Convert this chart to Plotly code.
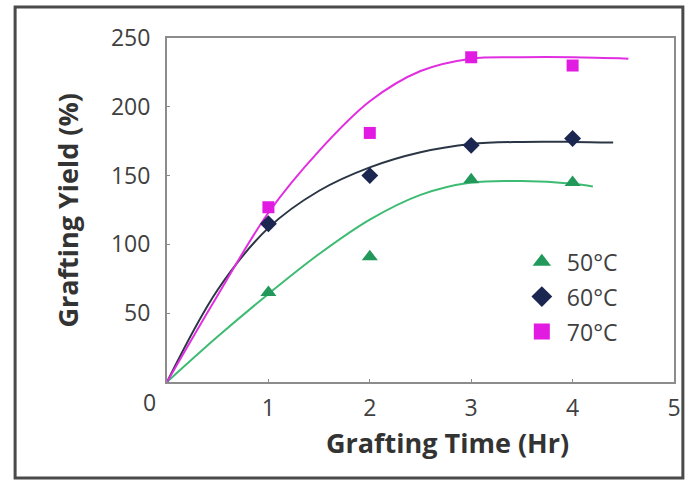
import plotly.graph_objects as go

# Measured data points (Grafting Time, Grafting Yield %)
time_pts = [1, 2, 3, 4]
yield_50 = [65, 91, 147, 145]
yield_60 = [115, 150, 172, 177]
yield_70 = [127, 181, 236, 230]

# Fitted trend curves
curve50_x = [0, 0.5, 1, 1.5, 2, 2.5, 3, 3.5, 4, 4.2]
curve50_y = [0, 33, 64, 93, 118, 136, 145, 146, 144, 142]
curve60_x = [0, 0.5, 1, 1.5, 2, 2.5, 3, 3.5, 4, 4.4]
curve60_y = [0, 67, 112, 139, 156, 167, 173, 174.5, 174.5, 174]
curve70_x = [0, 0.5, 1, 1.5, 2, 2.5, 3, 3.5, 4, 4.55]
curve70_y = [0, 63, 123, 168, 204, 226, 235, 236, 236, 235]

series_names = ["50°C", "60°C", "70°C"]
x_ticks = [1, 2, 3, 4, 5]
y_ticks = [50, 100, 150, 200, 250]

c50_line, c50_mark = "#3dbb73", "#22995a"
c60_line, c60_mark = "#2b3644", "#1b2750"
c70_line, c70_mark = "#e02ee0", "#e21be2"

FONT = "Open Sans"

fig = go.Figure()

curves = [(curve50_x, curve50_y, c50_line), (curve60_x, curve60_y, c60_line), (curve70_x, curve70_y, c70_line)]
for cx, cy, col in curves:
    fig.add_trace(go.Scatter(x=cx, y=cy, mode="lines", line=dict(color=col, width=2, shape="spline", smoothing=1.0),
                             showlegend=False, hoverinfo="skip"))

markers = [(yield_50, "triangle-up", c50_mark, 14), (yield_60, "diamond", c60_mark, 13), (yield_70, "square", c70_mark, 12)]
for (vals, sym, col, sz) in markers:
    fig.add_trace(go.Scatter(x=time_pts, y=vals, mode="markers", marker=dict(symbol=sym, color=col, size=sz),
                             showlegend=False))

# legend-only entries (larger symbols, as in the reference legend)
for i, (vals, sym, col, sz) in enumerate(markers):
    fig.add_trace(go.Scatter(x=[None], y=[None], mode="markers", name=series_names[i],
                             marker=dict(symbol=sym, color=col, size=16), legendgroup=str(i), showlegend=True))

fig.update_layout(
    width=692, height=482,
    margin=dict(l=167, r=11, t=38, b=100),
    paper_bgcolor="white", plot_bgcolor="white",
    font=dict(family=FONT, size=23, color="#404040"),
    legend=dict(x=0.69, y=0.412, xanchor="left", yanchor="top", itemwidth=40, tracegroupgap=2,
                font=dict(family=FONT, size=23, color="#404040"), bgcolor="rgba(0,0,0,0)"),
    xaxis=dict(range=[0, 5], tickvals=x_ticks, showgrid=False, zeroline=False, showline=True, mirror=True,
               linecolor="#8c8c8c", linewidth=2, ticks="inside", ticklen=3, tickcolor="#8c8c8c",
               ticklabelstandoff=4, ticklabeloverflow="allow", tickfont=dict(size=23, color="#404040")),
    yaxis=dict(range=[0, 250], tickvals=y_ticks, showgrid=False, zeroline=False, showline=True, mirror=True,
               linecolor="#8c8c8c", linewidth=2, ticks="inside", ticklen=3, tickcolor="#8c8c8c",
               ticklabelstandoff=10, tickfont=dict(size=23, color="#404040")),
    annotations=[
        dict(text="0", x=-0.035, y=-0.058, xref="paper", yref="paper", showarrow=False,
             xanchor="center", yanchor="middle", font=dict(size=23, color="#404040", family=FONT)),
        dict(text="<b>Grafting Time (Hr)</b>", x=0.554, y=-0.177, xref="paper", yref="paper", showarrow=False,
             xanchor="center", yanchor="middle", font=dict(size=27, color="#333333", family=FONT)),
        dict(text="<b>Grafting Yield (%)</b>", x=-0.198, y=0.50, xref="paper", yref="paper", showarrow=False,
             xanchor="center", yanchor="middle", textangle=-90, font=dict(size=27, color="#333333", family=FONT)),
    ],
    shapes=[dict(type="rect", xref="paper", yref="paper", x0=-0.2996, x1=1.0175, y0=-0.279, y1=1.090,
                 line=dict(color="#4a4a4a", width=3))],
)

fig.write_html("out.html", config={"displayModeBar": False},
               post_script="document.body.style.margin='0';document.body.style.overflow='hidden';")
